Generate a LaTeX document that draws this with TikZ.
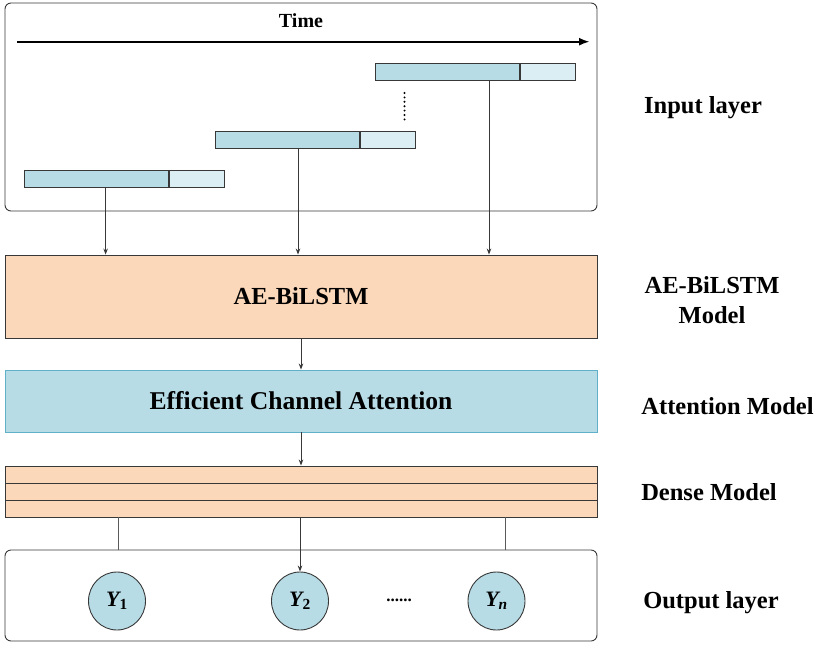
\documentclass[tikz,border=0pt]{standalone}
\usepackage{fontspec}
\setmainfont{Liberation Serif}
\usetikzlibrary{arrows.meta,shapes.geometric}
\definecolor{barblue}{HTML}{B7DCE6}
\definecolor{barlight}{HTML}{DBEEF3}
\definecolor{peach}{HTML}{FBD8BA}
\definecolor{ecaedge}{HTML}{5FB0C8}
\definecolor{edgegray}{HTML}{383838}
\definecolor{linkgray}{HTML}{5A5A5A}

\begin{document}
\begin{tikzpicture}[x=1pt,y=-1pt,
  panel/.style={draw=edgegray, line width=0.9pt, rounded corners=6pt, inner sep=0pt},
  block/.style={draw=edgegray, line width=0.9pt, inner sep=0pt,
    font=\fontsize{24.5}{29}\selectfont\bfseries},
  seg/.style={draw=edgegray, line width=0.9pt, inner sep=0pt, anchor=west,
    minimum height=16.6pt},
  layer/.style={draw=edgegray, line width=0.9pt, inner sep=0pt, fill=peach,
    minimum width=592pt, minimum height=17pt},
  link/.style={draw=edgegray, line width=0.8pt},
  feed/.style={link, -{Stealth[length=6pt,width=4.5pt]}},
  sidelabel/.style={font=\fontsize{24.5}{30}\selectfont\bfseries, align=center},
  outnode/.style={ellipse, draw=edgegray, line width=0.9pt, fill=barblue,
    minimum width=57pt, minimum height=58pt, inner sep=0pt,
    font=\fontsize{22}{24}\selectfont\bfseries}
]
\useasboundingbox (0,0) rectangle (819,645);

% input panel with the time axis and the sliding windows
\node[panel, minimum width=592pt, minimum height=208pt] (inbox) at (301,107) {};
\node[font=\fontsize{20}{24}\selectfont\bfseries] (time) at (301,20.5) {Time};
\coordinate (t0) at (17,41.7);
\coordinate (t1) at (590,41.7);
\draw[line width=2.2pt, -{Latex[length=11pt,width=8pt]}] (t0) -- (t1);

\node[seg, fill=barblue, minimum width=144pt] (b1a) at (24,179) {};
\node[seg, fill=barlight, minimum width=55pt] (b1b) at (b1a.east) {};
\node[seg, fill=barblue, minimum width=144pt] (b2a) at (215,140) {};
\node[seg, fill=barlight, minimum width=55pt] (b2b) at (b2a.east) {};
\node[seg, fill=barblue, minimum width=144pt] (b3a) at (375,72) {};
\node[seg, fill=barlight, minimum width=55pt] (b3b) at (b3a.east) {};

\coordinate (d0) at (404.5,93);
\coordinate (d1) at (404.5,119.5);
\draw[line width=2.2pt, line cap=round, dash pattern=on 0pt off 4.4pt] (d0) -- (d1);

% model blocks
\node[block, fill=peach, minimum width=592pt, minimum height=83pt] (ae) at (301,296.5) {AE-BiLSTM};
\node[block, fill=barblue, draw=ecaedge, minimum width=592pt, minimum height=62pt,
  font=\fontsize{25.6}{30}\selectfont\bfseries] (eca) at (301,401) {Efficient Channel Attention};
\node[layer] (l1) at (301,474.5) {};
\node[layer] (l2) at (301,491.5) {};
\node[layer] (l3) at (301,508.5) {};

% output panel
\node[panel, minimum width=592pt, minimum height=91pt] (outbox) at (301,595.5) {};
\node[outnode] (y1) at (117,601) {\itshape Y\textsubscript{\upshape 1}};
\node[outnode] (y2) at (300,601) {\itshape Y\textsubscript{\upshape 2}};
\node[outnode] (yn) at (496.5,601) {\itshape Y\textsubscript{n}};
\node[font=\fontsize{17}{20}\selectfont\bfseries] (more) at (399,600) {......};

% connectors
\coordinate (k1) at (105.6,0);
\coordinate (k2) at (298,0);
\coordinate (k3) at (489,0);
\draw[feed] (b1a.south -| k1) -- (ae.north -| k1);
\draw[feed] (b2a.south -| k2) -- (ae.north -| k2);
\draw[feed] (b3a.south -| k3) -- (ae.north -| k3);
\draw[feed] (ae.south) -- (eca.north);
\draw[feed] (eca.south) -- (l1.north);
\coordinate (m1) at (118,0);
\coordinate (m3) at (505,0);
\draw[link, draw=linkgray] (l3.south -| m1) -- (outbox.north -| m1);
\draw[link, draw=linkgray] (l3.south -| m3) -- (outbox.north -| m3);
\draw[feed] (l3.south -| y2.north) -- (y2.north);

% layer names
\node[sidelabel] (n1) at (703,107.5) {Input layer};
\node[sidelabel] (n2) at (712,300) {AE-BiLSTM\\Model};
\node[sidelabel] (n3) at (727.5,406) {Attention Model};
\node[sidelabel] (n4) at (709,492.5) {Dense Model};
\node[sidelabel] (n5) at (711,602.5) {Output layer};
\end{tikzpicture}
\end{document}
